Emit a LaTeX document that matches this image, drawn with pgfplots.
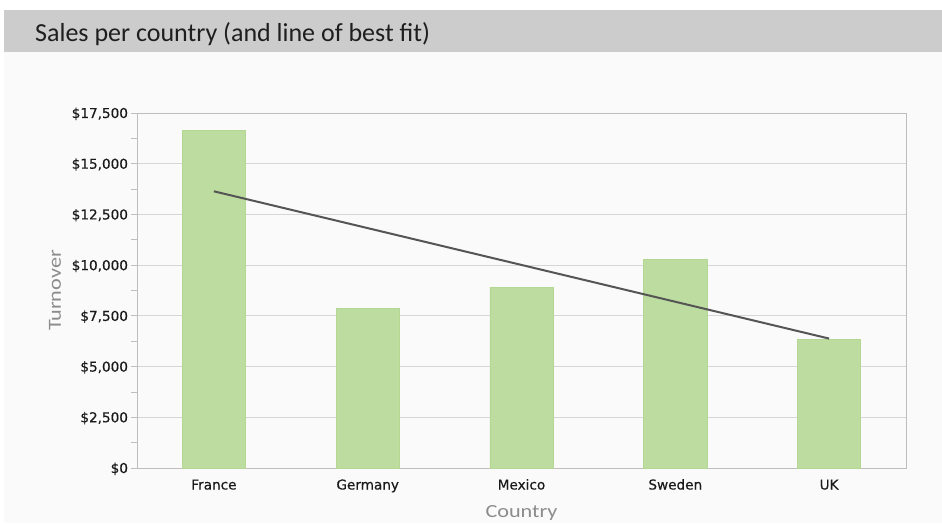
\documentclass[border=0pt]{standalone}
\usepackage{pgfplots}
\pgfplotsset{compat=1.18}
\usepackage{fontspec}
\setmainfont{Carlito}
\newfontfamily\tickfont[FakeBold=0.4]{DejaVu Sans}
\newfontfamily\labfont[FakeStretch=1.2]{Carlito}
\definecolor{barg}{RGB}{189,220,160}
\definecolor{bare}{RGB}{180,215,148}
\definecolor{trend}{RGB}{85,85,85}
\definecolor{gridc}{RGB}{214,214,214}
\definecolor{axc}{RGB}{190,190,190}
\definecolor{band}{RGB}{204,204,204}
\definecolor{bgc}{RGB}{250,250,250}
\definecolor{labc}{RGB}{140,140,140}
\definecolor{titc}{RGB}{30,30,30}
\begin{document}
\begin{tikzpicture}
\fill[white] (0bp,0bp) rectangle (942bp,523bp);
\fill[bgc] (4bp,0bp) rectangle (942bp,471bp);
\fill[band] (4bp,471bp) rectangle (942bp,513bp);
\node[anchor=base west, inner sep=0pt, text=titc] at (35bp,481.3bp) {\fontsize{26bp}{30bp}\selectfont Sales per country (and line of best fit)};
\begin{axis}[
  at={(137bp,55bp)}, anchor=south west,
  scale only axis, width=769bp, height=355bp,
  xmin=-0.5, xmax=4.5, ymin=0, ymax=17500,
  scaled y ticks=false,
  xtick pos=bottom, ytick pos=left,
  xtick={0,1,2,3,4},
  xticklabels={France,Germany,Mexico,Sweden,UK},
  major x tick style={draw=none},
  extra x ticks={-0.5,0.5,1.5,2.5,3.5,4.5},
  extra x tick labels={},
  extra x tick style={grid=none, major tick length=6bp, tick style={axc, draw=axc}},
  ytick={0,2500,5000,7500,10000,12500,15000,17500},
  yticklabels={{\$0},{\$2,500},{\$5,000},{\$7,500},{\$10,000},{\$12,500},{\$15,000},{\$17,500}},
  minor y tick num=1,
  tick align=outside,
  major tick length=6.5bp, minor tick length=6.5bp,
  tick style={axc, line width=0.8bp},
  ymajorgrids, grid style={gridc, line width=0.9bp},
  axis line style={axc, line width=0.9bp},
  typeset ticklabels with strut,
  tick label style={font=\tickfont\fontsize{13.6bp}{15bp}\selectfont, text=black!90},
  yticklabel style={xshift=1bp, yshift=-2bp},
  xticklabel style={yshift=-1bp},
  xlabel={Country}, ylabel={Turnover},
  label style={font=\labfont\fontsize{18.5bp}{21bp}\selectfont, text=labc},
  xlabel style={at={(axis description cs:0.5,-0.1268)}, anchor=center},
  ylabel style={at={(axis description cs:-0.1066,0.5)}, anchor=center},
  axis background/.style={fill=bgc},
  clip=false,
]
\addplot[ybar, bar width=0.41, fill=barg, draw=bare, line width=0.6bp] coordinates {(0,16650) (1,7850) (2,8920) (3,10300) (4,6350)};
\addplot[trend, line width=2bp] coordinates {(0,13640) (4,6380)};
\end{axis}
\end{tikzpicture}
\end{document}
